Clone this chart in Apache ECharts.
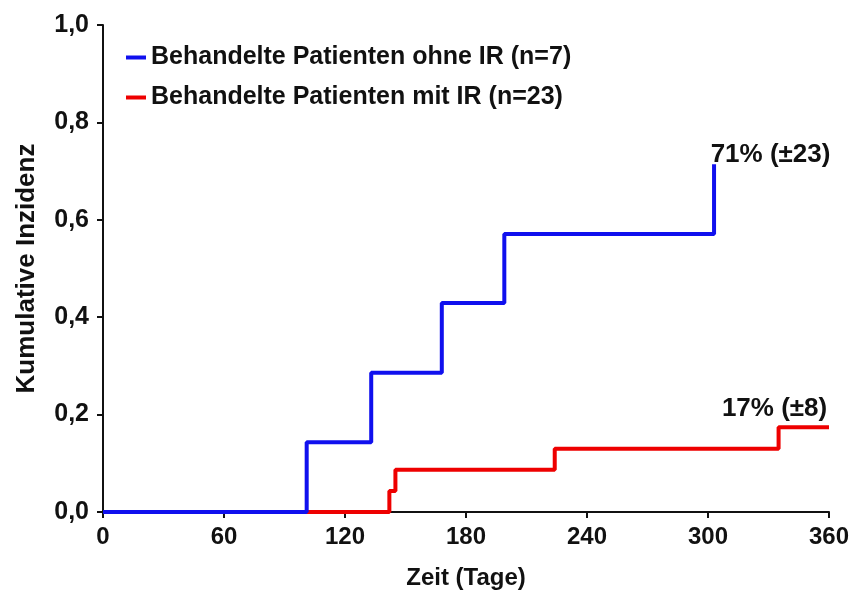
<!DOCTYPE html>
<html>
<head>
<meta charset="utf-8">
<script src="https://cdn.jsdelivr.net/npm/echarts@6/dist/echarts.min.js"></script>
<style>
  html, body { margin: 0; padding: 0; background: #fff; }
  #myChart { width: 853px; height: 592px; }
</style>
</head>
<body>
<div id="myChart"></div>
<script>
// Daten
var xTicks = [0, 60, 120, 180, 240, 300, 360]
var yTickLabels = ['0,0', '0,2', '0,4', '0,6', '0,8', '1,0']

var blueName = 'Behandelte Patienten ohne IR (n=7)'
var blueTimes = [0, 101, 133, 168, 199, 303]
var blueValues = [0, 0.143, 0.286, 0.429, 0.571, 0.714]

var redName = 'Behandelte Patienten mit IR (n=23)'
var redTimes = [0, 142, 145, 224, 335, 360]
var redValues = [0, 0.043, 0.087, 0.130, 0.174, 0.174]

var blueNote = '71% (±23)'
var redNote = '17% (±8)'

var fontFam = '"Liberation Sans", Arial, sans-serif'

let toPairs = function(xs, ys) {
  return xs.map(function(x, i) { return [x, ys[i]] })
}

let axisStyle = {
  axisLine: { show: true, lineStyle: { color: '#111', width: 2 } },
  axisTick: { show: true, inside: false, length: 6, lineStyle: { color: '#111', width: 2 } },
  splitLine: { show: false }
}

let boldText = function(size) {
  return { fontFamily: fontFam, fontSize: size, fontWeight: 'bold', color: '#111' }
}

var chart = echarts.init(document.getElementById('myChart'))

var option = {
  animation: false,
  backgroundColor: '#fff',
  textStyle: { fontFamily: fontFam },
  grid: { left: 103, right: 24, top: 25, bottom: 80, outerBoundsMode: 'none', containLabel: false },
  legend: {
    orient: 'vertical',
    left: 121,
    top: 40,
    itemWidth: 20,
    itemHeight: 4,
    itemGap: 15,
    icon: 'rect',
    textStyle: boldText(25),
    data: [blueName, redName]
  },
  xAxis: Object.assign({
    type: 'value',
    min: 0,
    max: 360,
    interval: 60,
    name: 'Zeit (Tage)',
    nameLocation: 'middle',
    nameGap: 54,
    nameTextStyle: boldText(24),
    axisLabel: Object.assign({
      margin: 13,
      formatter: function(v) { return xTicks.indexOf(v) >= 0 ? String(v) : '' }
    }, boldText(24))
  }, axisStyle),
  yAxis: Object.assign({
    type: 'value',
    min: 0,
    max: 1,
    interval: 0.2,
    name: 'Kumulative Inzidenz',
    nameLocation: 'middle',
    nameGap: 63,
    nameTextStyle: boldText(26),
    axisLabel: Object.assign({
      margin: 14,
      formatter: function(v) { return yTickLabels[Math.round(v * 5)] }
    }, boldText(25))
  }, axisStyle),
  series: [{
    name: redName,
    type: 'line',
    step: 'end',
    z: 2,
    showSymbol: false,
    color: '#ee0000',
    lineStyle: { width: 4, color: '#ee0000' },
    data: toPairs(redTimes, redValues),
    markPoint: {
      symbol: 'circle',
      symbolSize: 0,
      label: Object.assign({ show: true, position: 'inside', formatter: redNote }, boldText(26)),
      data: [{ coord: [333, 0.212] }]
    }
  }, {
    name: blueName,
    type: 'line',
    step: 'end',
    z: 3,
    showSymbol: false,
    color: '#1010ee',
    lineStyle: { width: 4, color: '#1010ee' },
    data: toPairs(blueTimes, blueValues),
    markPoint: {
      symbol: 'circle',
      symbolSize: 0,
      label: Object.assign({ show: true, position: 'inside', formatter: blueNote }, boldText(26)),
      data: [{ coord: [331, 0.733] }]
    }
  }]
}

chart.setOption(option)
</script>
</body>
</html>
